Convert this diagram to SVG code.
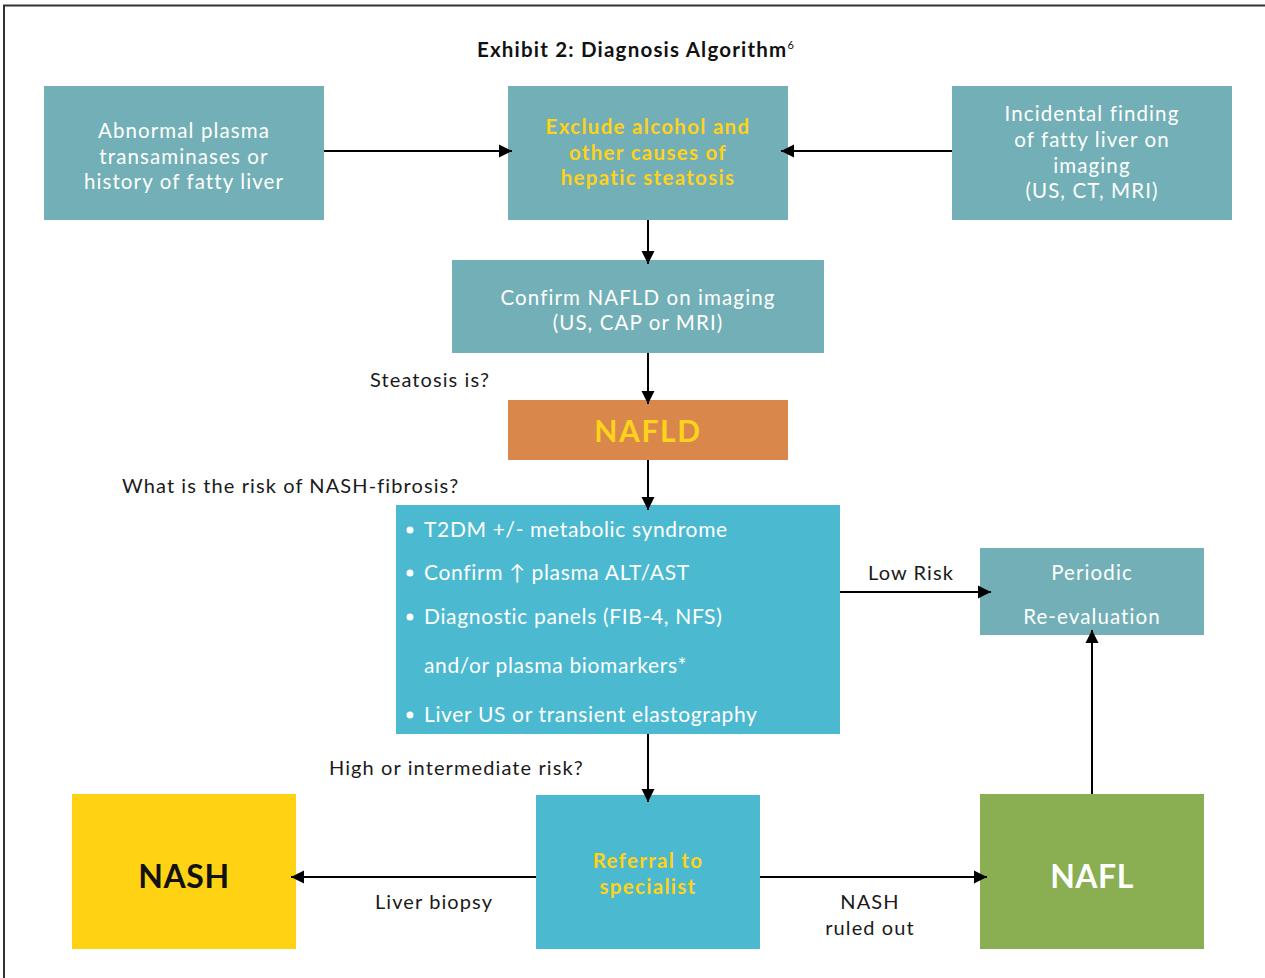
<svg xmlns="http://www.w3.org/2000/svg" width="1265" height="978" viewBox="0 0 1265 978">
  <style>
    text { font-family: Lato, "Noto Sans", "DejaVu Sans", sans-serif; }
    .teal { fill: #72AFB6; }
    .blue { fill: #4BB9D0; }
    .w { fill: #ffffff; font-size: 20.5px; letter-spacing: 1.1px; text-anchor: middle; }
    .y { fill: #FFD21B; font-size: 20.5px; letter-spacing: 1.3px; font-weight: bold; text-anchor: middle; }
    .lbl { fill: #1a1a1a; font-size: 20px; letter-spacing: 1.1px; }
    .bul { fill: #ffffff; font-size: 21px; letter-spacing: 0.65px; }
    .edge { stroke: #000; stroke-width: 2; fill: none; marker-end: url(#arr); }
  </style>
  <defs>
    <marker id="arr" markerUnits="userSpaceOnUse" markerWidth="14" markerHeight="14" refX="13" refY="7" orient="auto">
      <path d="M0,0.5 L13,7 L0,13.5 Z" fill="#000"/>
    </marker>
  </defs>
  <rect width="1265" height="978" fill="#fff"/>
  <!-- page frame -->
  <path d="M4,978 L4,5.5 L1265,5.5" stroke="#333" stroke-width="2" fill="none"/>

  <text x="636" y="57" style="font-size:20.5px;letter-spacing:1.2px;font-weight:bold;text-anchor:middle;fill:#111">Exhibit 2: Diagnosis Algorithm<tspan dy="-8" style="font-size:11px;font-weight:normal">6</tspan></text>

  <g id="abnormal">
    <rect class="teal" x="44" y="86" width="280" height="134"/>
    <text class="w" x="184" y="138">Abnormal plasma</text>
    <text class="w" x="184" y="164">transaminases or</text>
    <text class="w" x="184" y="189">history of fatty liver</text>
  </g>

  <g id="exclude">
    <rect class="teal" x="508" y="86" width="280" height="134"/>
    <text class="y" x="648" y="134">Exclude alcohol and</text>
    <text class="y" x="648" y="160">other causes of</text>
    <text class="y" x="648" y="185">hepatic steatosis</text>
  </g>

  <g id="incidental">
    <rect class="teal" x="952" y="86" width="280" height="134"/>
    <text class="w" x="1092" y="121">Incidental finding</text>
    <text class="w" x="1092" y="147">of fatty liver on</text>
    <text class="w" x="1092" y="173">imaging</text>
    <text class="w" x="1092" y="198">(US, CT, MRI)</text>
  </g>

  <g id="confirm">
    <rect class="teal" x="452" y="260" width="372" height="93"/>
    <text class="w" x="638" y="305">Confirm NAFLD on imaging</text>
    <text class="w" x="638" y="330">(US, CAP or MRI)</text>
  </g>

  <g id="nafld">
    <rect x="508" y="400" width="280" height="60" fill="#D9874A"/>
    <text x="648" y="442" style="fill:#FFD21B;font-size:30px;letter-spacing:1.6px;font-weight:bold;text-anchor:middle">NAFLD</text>
  </g>

  <g id="risk-factors">
    <rect class="blue" x="396" y="505" width="444" height="229"/>
    <g fill="#fff">
      <circle cx="410" cy="530" r="3.5"/>
      <circle cx="410" cy="573" r="3.5"/>
      <circle cx="410" cy="617" r="3.5"/>
      <circle cx="410" cy="715" r="3.5"/>
    </g>
    <text class="bul" x="424" y="537">T2DM +/- metabolic syndrome</text>
    <text class="bul" x="424" y="580">Confirm ↑ plasma ALT/AST</text>
    <text class="bul" x="424" y="624">Diagnostic panels (FIB-4, NFS)</text>
    <text class="bul" x="424" y="673">and/or plasma biomarkers*</text>
    <text class="bul" x="424" y="722">Liver US or transient elastography</text>
  </g>

  <g id="periodic">
    <rect class="teal" x="980" y="548" width="224" height="87"/>
    <text class="w" x="1092" y="580">Periodic</text>
    <text class="w" x="1092" y="624">Re-evaluation</text>
  </g>

  <g id="referral">
    <rect class="blue" x="536" y="795" width="224" height="154"/>
    <text class="y" x="648" y="868">Referral to</text>
    <text class="y" x="648" y="894">specialist</text>
  </g>

  <g id="nash">
    <rect x="72" y="794" width="224" height="155" fill="#FFD313"/>
    <text x="184" y="888" style="fill:#111;font-size:32px;letter-spacing:0.6px;font-weight:bold;text-anchor:middle">NASH</text>
  </g>

  <g id="nafl">
    <rect x="980" y="794" width="224" height="155" fill="#8AAE52"/>
    <text x="1092" y="888" style="fill:#fff;font-size:32px;letter-spacing:0.5px;font-weight:bold;text-anchor:middle">NAFL</text>
  </g>

  <g id="connectors">
    <line class="edge" x1="324" y1="151" x2="512" y2="151"/>
    <line class="edge" x1="952" y1="151" x2="781" y2="151"/>
    <line class="edge" x1="648" y1="220" x2="648" y2="264"/>
    <line class="edge" x1="648" y1="353" x2="648" y2="404"/>
    <line class="edge" x1="648" y1="460" x2="648" y2="510"/>
    <line class="edge" x1="840" y1="592" x2="991" y2="592"/>
    <line class="edge" x1="1092" y1="794" x2="1092" y2="630"/>
    <line class="edge" x1="648" y1="734" x2="648" y2="802"/>
    <line class="edge" x1="536" y1="877" x2="291" y2="877"/>
    <line class="edge" x1="760" y1="877" x2="987" y2="877"/>
  </g>

  <g id="edge-labels">
    <text class="lbl" x="370" y="387">Steatosis is?</text>
    <text class="lbl" x="122" y="493">What is the risk of NASH-fibrosis?</text>
    <text class="lbl" x="868" y="580">Low Risk</text>
    <text class="lbl" x="329" y="775">High or intermediate risk?</text>
    <text class="lbl" x="434" y="909" text-anchor="middle">Liver biopsy</text>
    <text class="lbl" x="870" y="909" text-anchor="middle">NASH</text>
    <text class="lbl" x="870" y="935" text-anchor="middle">ruled out</text>
  </g>
</svg>
